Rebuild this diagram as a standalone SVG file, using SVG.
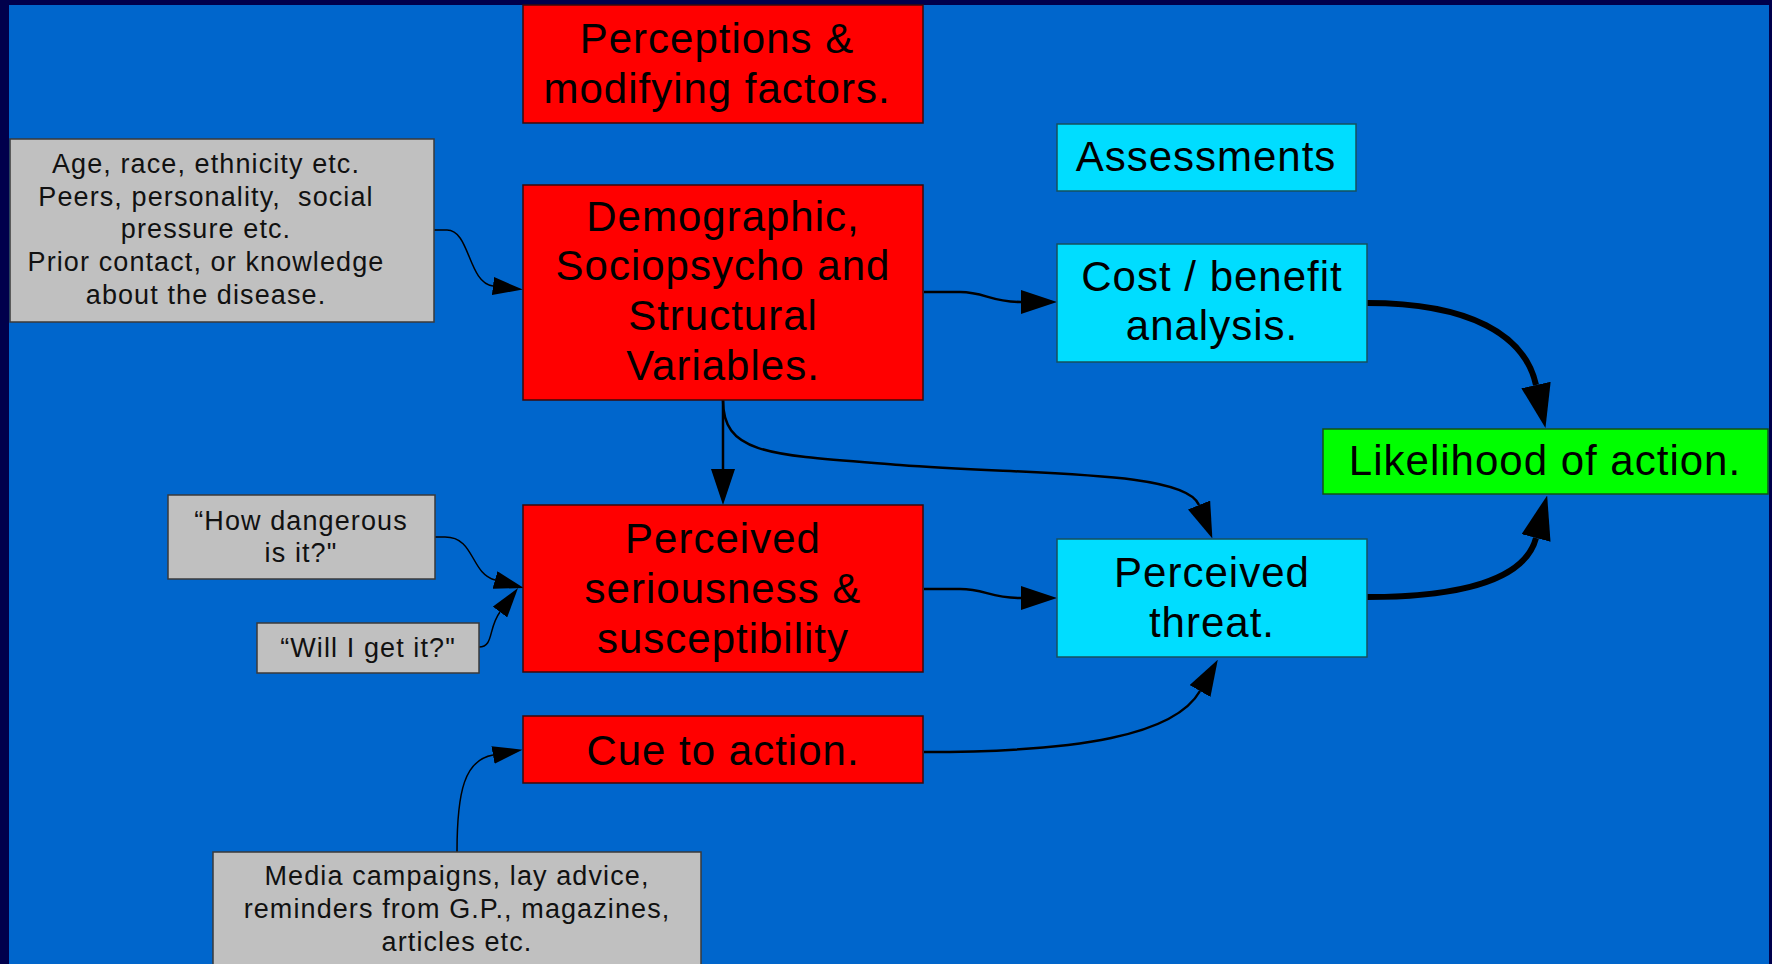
<svg xmlns="http://www.w3.org/2000/svg" width="1772" height="964" viewBox="0 0 1772 964">
<style>
.bg{fill:#00004c}
.panel{fill:#0066cc}
.red{fill:#ff0000;stroke:#3a0a0a;stroke-width:1.5}
.cyan{fill:#00ddff;stroke:#16505e;stroke-width:1.5}
.green{fill:#00ff00;stroke:#145214;stroke-width:1.5}
.gray{fill:#c0c0c0;stroke:#3a3a3a;stroke-width:1.5}
.big{font-family:"Liberation Sans",Arial,sans-serif;font-size:42px;letter-spacing:1px;fill:#000;text-anchor:middle}
.small{font-family:"Liberation Sans",Arial,sans-serif;font-size:27px;letter-spacing:1.1px;fill:#111;text-anchor:middle}
.thin{fill:none;stroke:#000;stroke-width:1.5;marker-end:url(#ahThin)}
.med{fill:none;stroke:#000;stroke-width:2.5;marker-end:url(#ahMed)}
.thick{fill:none;stroke:#000;stroke-width:6;marker-end:url(#ahThick)}
</style>
<defs>
<marker id="ahThin" markerUnits="userSpaceOnUse" viewBox="0 0 30 18" markerWidth="30" markerHeight="18" refX="0" refY="9" orient="auto"><path d="M0,0 L30,9 L0,18 z" fill="#000"/></marker>
<marker id="ahMed" markerUnits="userSpaceOnUse" viewBox="0 0 36 24" markerWidth="36" markerHeight="24" refX="0" refY="12" orient="auto"><path d="M0,0 L36,12 L0,24 z" fill="#000"/></marker>
<marker id="ahThick" markerUnits="userSpaceOnUse" viewBox="0 0 44 30" markerWidth="44" markerHeight="30" refX="0" refY="15" orient="auto"><path d="M0,0 L44,15 L0,30 z" fill="#000"/></marker>
</defs>
<rect class="bg" x="0" y="0" width="1772" height="964"/>
<rect class="panel" x="9" y="5" width="1760" height="959"/>

<g id="connectors">
<path class="thin" d="M434,230 L447,230 C470,230 468,283 493,286"/>
<path class="thin" d="M435,537 L445,537 C475,537 470,573 495,580"/>
<path class="thin" d="M479,647 C494,647 488,628 500,612"/>
<path class="thin" d="M457,852 C457,790 465,760 493,755"/>
<path class="med" d="M924,292 L960,292 C985,292 990,302 1021,302"/>
<path class="med" d="M723,400 L723,469"/>
<path class="med" d="M723,400 C723,455 770,455 900,465 S1185,470 1199,505"/>
<path class="med" d="M924,589 L960,589 C985,589 990,598 1021,598"/>
<path class="med" d="M924,752 C1080,752 1175,735 1200,691"/>
<path class="thick" d="M1367,303 C1470,303 1525,335 1536,385"/>
<path class="thick" d="M1367,597 C1460,597 1525,580 1536,538"/>
</g>

<g id="perceptions">
<rect class="red" x="523" y="5" width="400" height="118"/>
<text class="big" x="717" y="53">Perceptions &amp;</text>
<text class="big" x="717" y="103">modifying factors.</text>
</g>

<g id="demographic">
<rect class="red" x="523" y="185" width="400" height="215"/>
<text class="big" x="723" y="231">Demographic,</text>
<text class="big" x="723" y="280">Sociopsycho and</text>
<text class="big" x="723" y="330">Structural</text>
<text class="big" x="723" y="380">Variables.</text>
</g>

<g id="seriousness">
<rect class="red" x="523" y="505" width="400" height="167"/>
<text class="big" x="723" y="553">Perceived</text>
<text class="big" x="723" y="603">seriousness &amp;</text>
<text class="big" x="723" y="653">susceptibility</text>
</g>

<g id="cue">
<rect class="red" x="523" y="716" width="400" height="67"/>
<text class="big" x="723" y="765">Cue to action.</text>
</g>

<g id="assessments">
<rect class="cyan" x="1057" y="124" width="299" height="67"/>
<text class="big" x="1206" y="171">Assessments</text>
</g>

<g id="costbenefit">
<rect class="cyan" x="1057" y="244" width="310" height="118"/>
<text class="big" x="1212" y="291">Cost / benefit</text>
<text class="big" x="1212" y="340">analysis.</text>
</g>

<g id="threat">
<rect class="cyan" x="1057" y="539" width="310" height="118"/>
<text class="big" x="1212" y="587">Perceived</text>
<text class="big" x="1212" y="637">threat.</text>
</g>

<g id="likelihood">
<rect class="green" x="1323" y="429" width="445" height="65"/>
<text class="big" x="1545" y="475">Likelihood of action.</text>
</g>

<g id="factors">
<rect class="gray" x="10" y="139" width="424" height="183"/>
<text class="small" x="206" y="173">Age, race, ethnicity etc.</text>
<text class="small" x="206" y="206">Peers, personality, &#160;social</text>
<text class="small" x="206" y="238">pressure etc.</text>
<text class="small" x="206" y="271">Prior contact, or knowledge</text>
<text class="small" x="206" y="304">about the disease.</text>
</g>

<g id="dangerous">
<rect class="gray" x="168" y="495" width="267" height="84"/>
<text class="small" x="301" y="530">“How dangerous</text>
<text class="small" x="301" y="562">is it?"</text>
</g>

<g id="willi">
<rect class="gray" x="257" y="623" width="222" height="50"/>
<text class="small" x="368" y="657">“Will I get it?"</text>
</g>

<g id="media">
<rect class="gray" x="213" y="852" width="488" height="120"/>
<text class="small" x="457" y="885">Media campaigns, lay advice,</text>
<text class="small" x="457" y="918">reminders from G.P., magazines,</text>
<text class="small" x="457" y="951">articles etc.</text>
</g>
</svg>
